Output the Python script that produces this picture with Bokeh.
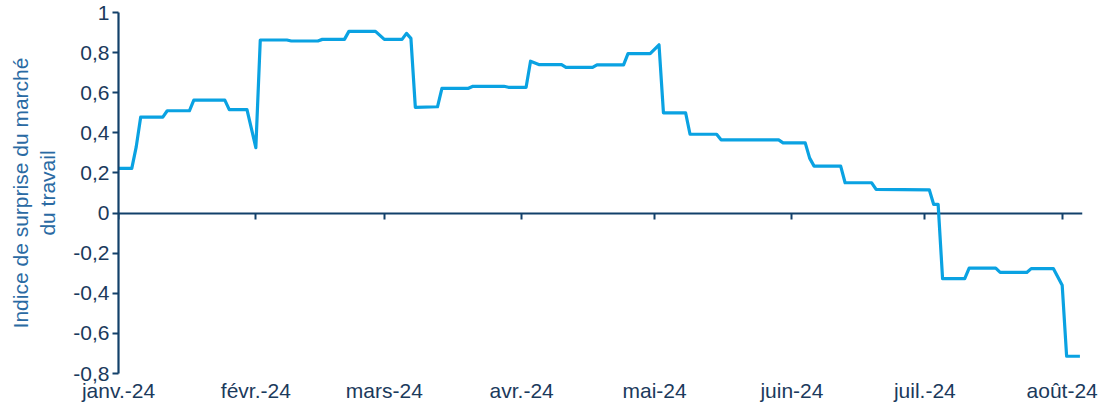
import pandas as pd
from bokeh.plotting import figure
from bokeh.models import DatetimeAxis, FixedTicker, Range1d
from bokeh.embed import file_html
from bokeh.resources import INLINE

# ---- data ----
dates = [
    "2024-01-01", "2024-01-04", "2024-01-05", "2024-01-06", "2024-01-11", "2024-01-12",
    "2024-01-17", "2024-01-18", "2024-01-25", "2024-01-26", "2024-01-30", "2024-02-01",
    "2024-02-02", "2024-02-08", "2024-02-09", "2024-02-15", "2024-02-16", "2024-02-21",
    "2024-02-22", "2024-02-28", "2024-03-01", "2024-03-05", "2024-03-06", "2024-03-07",
    "2024-03-08", "2024-03-13", "2024-03-14", "2024-03-20", "2024-03-21", "2024-03-28",
    "2024-03-29", "2024-04-02", "2024-04-03", "2024-04-05", "2024-04-10", "2024-04-11",
    "2024-04-17", "2024-04-18", "2024-04-24", "2024-04-25", "2024-04-30", "2024-05-02",
    "2024-05-03", "2024-05-08", "2024-05-09", "2024-05-15", "2024-05-16", "2024-05-29",
    "2024-05-30", "2024-06-04", "2024-06-05", "2024-06-06", "2024-06-12", "2024-06-13",
    "2024-06-19", "2024-06-20", "2024-07-02", "2024-07-03", "2024-07-04", "2024-07-05",
    "2024-07-10", "2024-07-11", "2024-07-17", "2024-07-18", "2024-07-24", "2024-07-25",
    "2024-07-30", "2024-08-01", "2024-08-02", "2024-08-05",
]
values = [
    0.223, 0.223, 0.33, 0.478, 0.478, 0.51,
    0.51, 0.563, 0.563, 0.516, 0.516, 0.326,
    0.863, 0.863, 0.858, 0.858, 0.866, 0.866,
    0.906, 0.906, 0.866, 0.866, 0.896, 0.871,
    0.527, 0.53, 0.622, 0.622, 0.632, 0.632,
    0.627, 0.627, 0.757, 0.74, 0.74, 0.726,
    0.726, 0.739, 0.739, 0.795, 0.795, 0.839,
    0.5, 0.5, 0.393, 0.393, 0.365, 0.365,
    0.35, 0.35, 0.274, 0.234, 0.234, 0.151,
    0.151, 0.118, 0.116, 0.043, 0.043, -0.327,
    -0.327, -0.275, -0.275, -0.296, -0.296, -0.277,
    -0.277, -0.36, -0.714, -0.714,
]
month_ticks = ["2024-01-01", "2024-02-01", "2024-03-01", "2024-04-01",
               "2024-05-01", "2024-06-01", "2024-07-01", "2024-08-01"]
month_labels = ["janv.-24", "févr.-24", "mars-24", "avr.-24",
                "mai-24", "juin-24", "juil.-24", "août-24"]
y_ticks = [-0.8, -0.6, -0.4, -0.2, 0, 0.2, 0.4, 0.6, 0.8, 1]
y_labels = ["-0,8", "-0,6", "-0,4", "-0,2", "0", "0,2", "0,4", "0,6", "0,8", "1"]
y_title = "Indice de surprise du marché\ndu travail"

# ---- styles ----
LINE = "#0AA2E2"
AXIS = "#12406A"
TEXT = "#1B3A5C"
TITLE = "#2A6AA3"
FONT = "Liberation Sans"

x = pd.to_datetime(dates)
tick_ms = [pd.Timestamp(d).value // 10**6 for d in month_ticks]

p = figure(width=1103, height=404, x_axis_type="datetime",
           x_range=Range1d(pd.Timestamp("2024-01-01"), pd.Timestamp("2024-08-05 14:00")),
           y_range=Range1d(-0.8, 1.0),
           output_backend="svg", toolbar_location=None,
           min_border_left=118, min_border_right=21, min_border_top=12, min_border_bottom=30)
p.outline_line_color = None
p.grid.visible = False
p.background_fill_color = "white"
p.border_fill_color = "white"

p.line(x, values, line_color=LINE, line_width=3.2, line_join="round")

# bottom axis: labels only
xa = p.xaxis[0]
xa.ticker = FixedTicker(ticks=tick_ms)
xa.major_label_overrides = {t: l for t, l in zip(tick_ms, month_labels)}
xa.axis_line_color = None
xa.major_tick_line_color = None
xa.major_tick_out = 0
xa.major_tick_in = 0
xa.minor_tick_line_color = None
xa.major_label_standoff = 5
xa.major_label_text_font = FONT
xa.major_label_text_font_size = "21px"
xa.major_label_text_color = TEXT

# zero line axis with ticks pointing down (placed in the top panel so it takes no bottom space)
za = DatetimeAxis(fixed_location=0, ticker=FixedTicker(ticks=tick_ms),
                  axis_line_color=AXIS, axis_line_width=2.2,
                  major_tick_line_color=AXIS, major_tick_line_width=2,
                  major_tick_out=0, major_tick_in=6, major_label_standoff=0,
                  minor_tick_line_color=None, major_label_text_alpha=0,
                  major_label_text_font_size="1px")
za.level = "underlay"
p.add_layout(za, "above")

# y axis
ya = p.yaxis[0]
ya.ticker = FixedTicker(ticks=y_ticks)
ya.major_label_overrides = {t: l for t, l in zip(y_ticks, y_labels)}
ya.axis_line_color = AXIS
ya.axis_line_width = 2.2
ya.major_tick_line_color = AXIS
ya.major_tick_line_width = 2
ya.major_tick_out = 6
ya.major_tick_in = 0
ya.minor_tick_line_color = None
ya.major_label_standoff = 3
ya.major_label_text_font = FONT
ya.major_label_text_font_size = "21px"
ya.major_label_text_color = TEXT
ya.axis_label = y_title
ya.axis_label_text_font = FONT
ya.axis_label_text_font_size = "21px"
ya.axis_label_text_font_style = "normal"
ya.axis_label_text_color = TITLE
ya.axis_label_standoff = 11

open("out.html", "w").write(file_html(p, INLINE))
